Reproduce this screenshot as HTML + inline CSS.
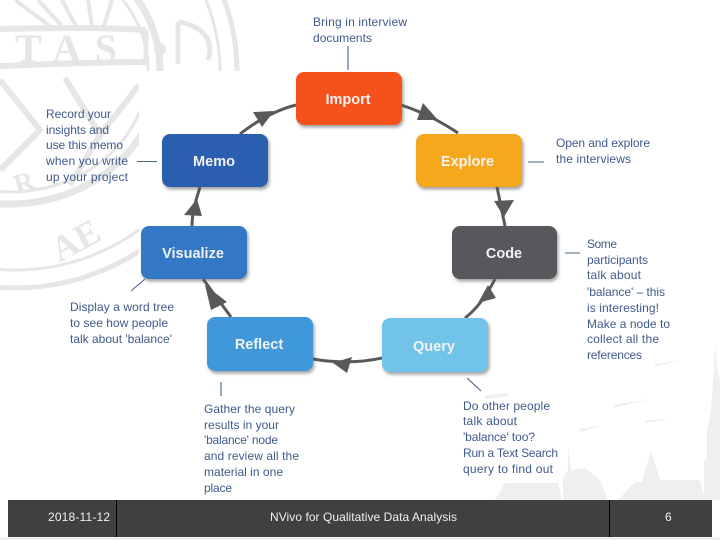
<!DOCTYPE html>
<html><head><meta charset="utf-8"><style>
html,body{margin:0;padding:0;background:#fff}
svg{display:block}
.t{font-family:"Liberation Sans",sans-serif;font-size:12px;fill:#3f5a8c}
.n{font-family:"Liberation Sans",sans-serif;font-size:14.5px;font-weight:bold;text-anchor:middle;fill:#f2f2f2}
.f{font-family:"Liberation Sans",sans-serif;font-size:12px;fill:#f0f0f0}
.a{fill:none;stroke:#58595b;stroke-width:3}
.h{fill:#58595b}
.l{stroke:#4a6388;stroke-width:1.1;fill:none}
.r{stroke:#e6e6e6;fill:none}
.sv{font-family:"Liberation Serif",serif;font-weight:bold;fill:#e6e6e6}
</style></head><body>
<svg width="720" height="540" viewBox="0 0 720 540" xmlns="http://www.w3.org/2000/svg">
<defs>
<filter id="s" x="-10%" y="-10%" width="125%" height="130%"><feDropShadow dx="1.5" dy="2.5" stdDeviation="1.6" flood-color="#555" flood-opacity=".55"/></filter>
<clipPath id="sealclip"><path d="M0 0H240V71H139V290H0Z"/></clipPath>
</defs>
<rect width="720" height="540" fill="#fff"/>
<g clip-path="url(#sealclip)">
<ellipse class="r" cx="15" cy="72" rx="222" ry="216" stroke-width="5"/>
<ellipse class="r" cx="15" cy="72" rx="205" ry="198" stroke-width="3"/>
<ellipse class="r" cx="10" cy="70" rx="150" ry="134" stroke-width="7"/>
<ellipse class="r" cx="10" cy="70" rx="138" ry="122" stroke-width="3"/>
<path class="r" stroke-width="6" d="M0 29C50 28 100 27 146 30M0 66C50 64 100 62 146 62"/>
<path class="r" stroke-width="5" d="M146 30V62"/>
<path class="r" stroke-width="6" d="M0 80L40 130L0 170M65 78L100 135L70 185M139 85L100 135"/>
<path class="r" stroke-width="4" d="M15 0L50 26M38 0L62 26M62 0L76 26M88 0L92 26M112 0L104 26"/>
<path class="r" stroke-width="5" d="M178 22C205 26 214 42 208 60M178 22V64"/>
<circle cx="160" cy="49" r="6" fill="#e6e6e6"/>
<text class="sv" x="15" y="62" font-size="40" textLength="102">TAS</text>
<text class="sv" x="48" y="252" font-size="36" transform="rotate(-28 75 235)">AE</text>
<text class="sv" x="15" y="190" font-size="28" transform="rotate(-18 30 185)">R</text>
</g>
<!-- skyline -->
<g fill="#efefef">
<path d="M495 500L505 483H558L562 500Z"/>
<path d="M563 500V478L568 470V445L566 412L568 445L571 470L585 468L600 480L608 500Z"/>
<path d="M618 500L635 482H642L645 470L651 452L657 470L660 480H700L705 500Z"/>
<path d="M704 500V462L707 458V430L711 410L714 368L715 345L717 368L720 380V500Z"/>
<rect x="0" y="537" width="720" height="3"/>
<path d="M655 364L682 360L655 367ZM613 405L650 399L613 408ZM646 420L670 419L646 423ZM580 429L603 425L580 432ZM485 396L505 393L510 396L485 399ZM497 423L520 425L497 427Z"/>
</g>
<!-- connectors -->
<path class="a" d="M401 105C420 111 440 121 458 133"/>
<polygon class="h" points="423,103 417,120 438,120"/>
<path class="a" d="M497 187L505 226"/>
<polygon class="h" points="494,201 514,200 504,217"/>
<path class="a" d="M495 279C487 295 478 308 465 318"/>
<polygon class="h" points="488,285 496,298 478,303"/>
<path class="a" d="M382 358C360 363 335 363 313 359"/>
<polygon class="h" points="352,357 347,373 333,363"/>
<path class="a" d="M231 317L203 279"/>
<polygon class="h" points="211,310 227,302 205,285"/>
<path class="a" d="M192 226C192 212 196 200 200 187"/>
<polygon class="h" points="184,215 202,216 197,199"/>
<path class="a" d="M240 134C258 120 276 110 296 105"/>
<polygon class="h" points="253,112 262,127 274,111"/>
<!-- leaders -->
<path class="l" d="M348 46V70M137 161.5H157M528 162H544M565 253H580M131 291L145 279M221 382V396M467 378L481 391"/>
<!-- nodes -->
<g filter="url(#s)">
<rect x="296" y="72" width="106" height="53" rx="8" fill="#f4511a"/>
<rect x="162" y="134" width="106" height="53" rx="8" fill="#2a5fb0"/>
<rect x="416" y="134" width="106" height="53" rx="8" fill="#f5a81c"/>
<rect x="452" y="226" width="105" height="53" rx="8" fill="#58595b"/>
<rect x="141" y="226" width="106" height="53" rx="8" fill="#3278c6"/>
<rect x="207" y="317" width="106" height="54" rx="8" fill="#4197da"/>
<rect x="382" y="318" width="106" height="54" rx="8" fill="#72c3ea"/>
</g>
<text class="n" x="348" y="104">Import</text>
<text class="n" x="214" y="166">Memo</text>
<text class="n" x="467.500" y="166">Explore</text>
<text class="n" x="504" y="258">Code</text>
<text class="n" x="193" y="258">Visualize</text>
<text class="n" x="259" y="349">Reflect</text>
<text class="n" x="434" y="351">Query</text>
<!-- labels -->
<g class="t">
<text x="313" y="26" textLength="94">Bring in interview</text>
<text x="313" y="42" textLength="59">documents</text>
<text x="46" y="118" textLength="65">Record your</text>
<text x="46" y="134" textLength="63">insights and</text>
<text x="46" y="149" textLength="77">use this memo</text>
<text x="46" y="165" textLength="82">when you write</text>
<text x="46" y="181" textLength="82">up your project</text>
<text x="556" y="147" textLength="94">Open and explore</text>
<text x="556" y="163" textLength="75">the interviews</text>
<text x="587" y="248" textLength="30">Some</text>
<text x="587" y="264" textLength="61">participants</text>
<text x="587" y="279" textLength="54">talk about</text>
<text x="587" y="296" textLength="78">'balance' – this</text>
<text x="587" y="312" textLength="72">is interesting!</text>
<text x="587" y="328" textLength="83">Make a node to</text>
<text x="587" y="343" textLength="72">collect all the</text>
<text x="587" y="359" textLength="55">references</text>
<text x="70" y="311" textLength="104">Display a word tree</text>
<text x="70" y="327" textLength="98">to see how people</text>
<text x="70" y="343" textLength="102">talk about 'balance'</text>
<text x="204" y="413" textLength="91">Gather the query</text>
<text x="204" y="429" textLength="75">results in your</text>
<text x="204" y="444" textLength="74">'balance' node</text>
<text x="204" y="460" textLength="95">and review all the</text>
<text x="204" y="476" textLength="79">material in one</text>
<text x="204" y="492" textLength="28">place</text>
<text x="463" y="410" textLength="87">Do other people</text>
<text x="463" y="425" textLength="54">talk about</text>
<text x="463" y="441" textLength="72">'balance' too?</text>
<text x="463" y="457" textLength="95">Run a Text Search</text>
<text x="463" y="473" textLength="90">query to find out</text>
</g>
<!-- footer -->
<rect x="8" y="500" width="704" height="37" fill="#404040"/>
<path d="M116.500 500V537M609.500 500V537" stroke="#000" stroke-width="1"/>
<text class="f" x="48" y="521" textLength="62">2018-11-12</text>
<text class="f" x="270" y="521" textLength="187">NVivo for Qualitative Data Analysis</text>
<text class="f" x="665" y="521">6</text>
</svg>
</body></html>
